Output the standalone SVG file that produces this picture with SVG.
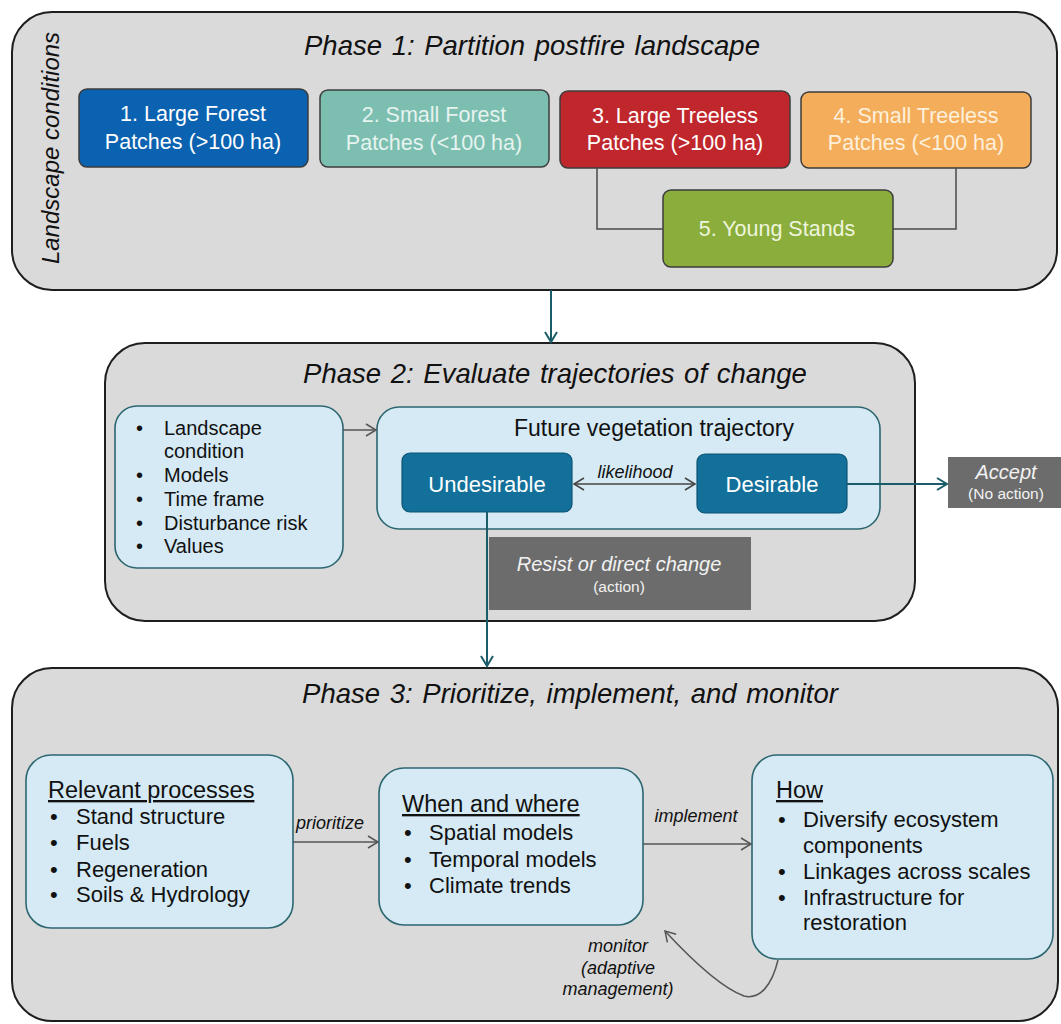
<svg xmlns="http://www.w3.org/2000/svg" width="1061" height="1024" viewBox="0 0 1061 1024">
<defs>
<style>
text{font-family:"Liberation Sans",Arial,sans-serif;fill:#111}
.phase{fill:#dadada;stroke:#1e1e1e;stroke-width:2}
.title{font-size:27.5px;font-style:italic;text-anchor:middle;word-spacing:2px}
.pbox{stroke:#3c3c3c;stroke-width:1.5}
.ptxt{font-size:21.5px;text-anchor:middle;fill:#fff}
.lb{fill:#d5eaf4;stroke:#2c6670;stroke-width:1.6}
.tb{fill:#13709a;stroke:#0d5574;stroke-width:1.2}
.tbt{font-size:22px;fill:#fff;text-anchor:middle}
.gb{fill:#6c6c6c}
.item20{font-size:20px}
.item22{font-size:22px}
.head{font-size:23.5px;text-decoration:underline}
.lab{font-size:18px;font-style:italic;text-anchor:middle}
.teal{stroke:#1b5c69;stroke-width:2;fill:none}
.gray{stroke:#555;stroke-width:1.5;fill:none}
.thin{stroke:#4a4a4a;stroke-width:1.5;fill:none}
</style>
<marker id="aT" markerWidth="14" markerHeight="14" refX="11" refY="7" orient="auto" markerUnits="userSpaceOnUse"><path d="M1,1 L11,7 L1,13" fill="none" stroke="#1b5c69" stroke-width="2"/></marker>
<marker id="aG" markerWidth="14" markerHeight="14" refX="11" refY="7" orient="auto" markerUnits="userSpaceOnUse"><path d="M1,1 L11,7 L1,13" fill="none" stroke="#555" stroke-width="1.5"/></marker>
<marker id="aGs" markerWidth="14" markerHeight="14" refX="11" refY="7" orient="auto-start-reverse" markerUnits="userSpaceOnUse"><path d="M1,1 L11,7 L1,13" fill="none" stroke="#444" stroke-width="1.5"/></marker>
</defs>

<g id="phase1">
<rect class="phase" x="12" y="12" width="1045" height="278" rx="40"/>
<text class="title" x="532" y="55">Phase 1: Partition postfire landscape</text>
<text transform="translate(59,148) rotate(-90)" font-size="24" font-style="italic" text-anchor="middle">Landscape conditions</text>
</g>
<g id="phase2">
<rect class="phase" x="105" y="343" width="810" height="278" rx="40"/>
<text class="title" x="555" y="383">Phase 2: Evaluate trajectories of change</text>
</g>
<g id="phase3">
<rect class="phase" x="12" y="668" width="1046" height="353" rx="40"/>
<text class="title" x="570" y="703">Phase 3: Prioritize, implement, and monitor</text>
</g>

<g id="n1">
<rect class="pbox" x="79" y="89" width="229" height="78" rx="8" fill="#0b62b0"/>
<text class="ptxt" x="193" y="121">1. Large Forest</text>
<text class="ptxt" x="193" y="149">Patches (&gt;100 ha)</text>
</g>
<g id="n2">
<rect class="pbox" x="320" y="90" width="229" height="77" rx="8" fill="#7cbfb1"/>
<text class="ptxt" x="434" y="122" style="fill:#e6f3ef">2. Small Forest</text>
<text class="ptxt" x="434" y="150" style="fill:#e6f3ef">Patches (&lt;100 ha)</text>
</g>
<g id="n3">
<rect class="pbox" x="560" y="91" width="230" height="77" rx="8" fill="#c0272d"/>
<text class="ptxt" x="675" y="123">3. Large Treeless</text>
<text class="ptxt" x="675" y="150">Patches (&gt;100 ha)</text>
</g>
<g id="n4">
<rect class="pbox" x="801" y="92" width="230" height="76" rx="8" fill="#f4ad5b"/>
<text class="ptxt" x="916" y="123" style="fill:#fdf0dc">4. Small Treeless</text>
<text class="ptxt" x="916" y="150" style="fill:#fdf0dc">Patches (&lt;100 ha)</text>
</g>
<g id="n5">
<rect class="pbox" x="663" y="190" width="230" height="77" rx="8" fill="#8aad3c"/>
<text class="ptxt" x="777" y="236" style="fill:#eef5dd">5. Young Stands</text>
</g>

<g id="factors">
<rect class="lb" x="115" y="406" width="228" height="162" rx="22"/>
<text class="item20"><tspan x="136" y="435">•</tspan><tspan x="164" y="435">Landscape</tspan></text>
<text class="item20" x="164" y="458">condition</text>
<text class="item20"><tspan x="136" y="482">•</tspan><tspan x="164" y="482">Models</tspan></text>
<text class="item20"><tspan x="136" y="506">•</tspan><tspan x="164" y="506">Time frame</tspan></text>
<text class="item20"><tspan x="136" y="530">•</tspan><tspan x="164" y="530">Disturbance risk</tspan></text>
<text class="item20"><tspan x="136" y="553">•</tspan><tspan x="164" y="553">Values</tspan></text>
</g>
<g id="future">
<rect class="lb" x="377" y="407" width="503" height="122" rx="22"/>
<text x="654" y="436" font-size="23" text-anchor="middle">Future vegetation trajectory</text>
</g>
<g id="undesirable">
<rect class="tb" x="402" y="453" width="170" height="59" rx="8"/>
<text class="tbt" x="487" y="492">Undesirable</text>
</g>
<g id="desirable">
<rect class="tb" x="697" y="454" width="150" height="59" rx="8"/>
<text class="tbt" x="772" y="492">Desirable</text>
</g>
<g id="accept">
<rect class="gb" x="948" y="457" width="113" height="51"/>
<text x="1006" y="479" font-size="20" font-style="italic" text-anchor="middle" style="fill:#f2f2f2">Accept</text>
<text x="1006" y="499" font-size="15.5" text-anchor="middle" style="fill:#f2f2f2">(No action)</text>
</g>
<g id="resist">
<rect class="gb" x="489" y="537" width="262" height="73"/>
<text x="619" y="571" font-size="20" font-style="italic" text-anchor="middle" style="fill:#f2f2f2">Resist or direct change</text>
<text x="619" y="592" font-size="15.5" text-anchor="middle" style="fill:#f2f2f2">(action)</text>
</g>

<g id="processes">
<rect class="lb" x="26" y="755" width="267" height="173" rx="25"/>
<text class="head" x="48" y="798">Relevant processes</text>
<text class="item22"><tspan x="50" y="824">•</tspan><tspan x="76" y="824">Stand structure</tspan></text>
<text class="item22"><tspan x="50" y="850">•</tspan><tspan x="76" y="850">Fuels</tspan></text>
<text class="item22"><tspan x="50" y="877">•</tspan><tspan x="76" y="877">Regeneration</tspan></text>
<text class="item22"><tspan x="50" y="902">•</tspan><tspan x="76" y="902">Soils &amp; Hydrology</tspan></text>
</g>
<g id="whenwhere">
<rect class="lb" x="379" y="768" width="264" height="157" rx="25"/>
<text class="head" x="402" y="812">When and where</text>
<text class="item22"><tspan x="404" y="840">•</tspan><tspan x="429" y="840">Spatial models</tspan></text>
<text class="item22"><tspan x="404" y="867">•</tspan><tspan x="429" y="867">Temporal models</tspan></text>
<text class="item22"><tspan x="404" y="893">•</tspan><tspan x="429" y="893">Climate trends</tspan></text>
</g>
<g id="how">
<rect class="lb" x="752" y="755" width="301" height="204" rx="25"/>
<text class="head" x="776" y="798">How</text>
<text class="item22"><tspan x="778" y="827">•</tspan><tspan x="803" y="827">Diversify ecosystem</tspan></text>
<text class="item22" x="803" y="853">components</text>
<text class="item22"><tspan x="778" y="879">•</tspan><tspan x="803" y="879">Linkages across scales</tspan></text>
<text class="item22"><tspan x="778" y="905">•</tspan><tspan x="803" y="905">Infrastructure for</tspan></text>
<text class="item22" x="803" y="930">restoration</text>
</g>

<g id="connectors">
<path class="thin" d="M597 168 V229 H663"/>
<path class="thin" d="M956 168 V229 H893"/>
<path class="teal" d="M551 290 V342" marker-end="url(#aT)"/>
<path class="gray" d="M343 430 H376" marker-end="url(#aG)"/>
<path class="gray" style="stroke:#444" d="M574 484 H695" marker-start="url(#aGs)" marker-end="url(#aGs)"/>
<text class="lab" x="635" y="478">likelihood</text>
<path class="teal" d="M847 484 H947" marker-end="url(#aT)"/>
<path class="teal" d="M487 512 V666" marker-end="url(#aT)"/>
<path class="gray" d="M293 842 H378" marker-end="url(#aG)"/>
<text class="lab" x="330" y="829">prioritize</text>
<path class="gray" d="M643 844 H751" marker-end="url(#aG)"/>
<text class="lab" x="696" y="822">implement</text>
<path class="gray" d="M778 960 C772 985 760 1000 744 996 C722 988 690 958 665 931" marker-end="url(#aG)"/>
<text class="lab" x="618" y="952">monitor</text>
<text class="lab" x="618" y="974">(adaptive</text>
<text class="lab" x="618" y="995">management)</text>
</g>
</svg>
